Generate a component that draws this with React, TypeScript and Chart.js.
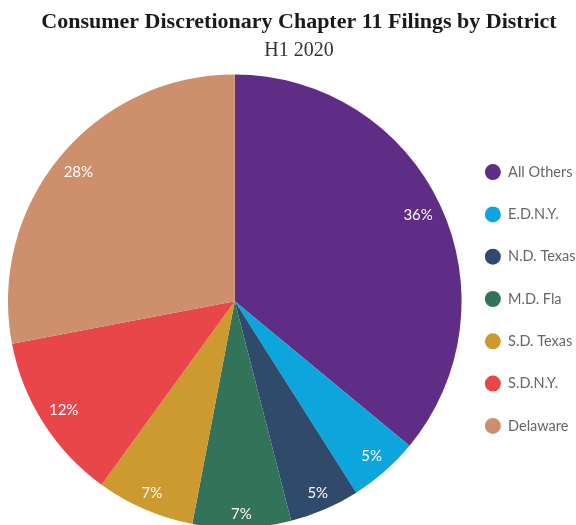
import React, { useEffect, useRef } from "react";
import { Chart, registerables } from "chart.js";

Chart.register(...registerables);

const categories = ["All Others", "E.D.N.Y.", "N.D. Texas", "M.D. Fla", "S.D. Texas", "S.D.N.Y.", "Delaware"];
const shares = [36, 5, 5, 7, 7, 12, 28];
const sliceColors = ["#5f2d85", "#0ca5dc", "#304a6b", "#33735a", "#cc9a2e", "#e9464a", "#cd8f6c"];
const titleText = "Consumer Discretionary Chapter 11 Filings by District";
const subtitleText = "H1 2020";

const labelFontSize = 15;
const labelFont = `${labelFontSize}px Lato`;
const legendShiftX = -12.5;
const legendShiftY = 35;

const sliceLabels = {
  id: "sliceLabels",
  afterDatasetsDraw(chart: any) {
    const ctx = chart.ctx;
    const meta = chart.getDatasetMeta(0);
    const data = chart.data.datasets[0].data as number[];
    const total = data.reduce((a, b) => a + b, 0);
    ctx.save();
    ctx.font = labelFont;
    ctx.fillStyle = "#ffffff";
    ctx.textAlign = "center";
    ctx.textBaseline = "middle";
    meta.data.forEach((arc: any, i: number) => {
      const p = arc.getProps(["x", "y", "startAngle", "endAngle", "outerRadius"], true);
      const mid = (p.startAngle + p.endAngle) / 2;
      const cx = Math.cos(mid);
      const cy = Math.sin(mid);
      const txt = Math.round((data[i] / total) * 100) + "%";
      const w = ctx.measureText(txt).width + 8;
      const h = labelFontSize * 1.2 + 2;
      const ext = (Math.abs(cx) * w) / 2 + (Math.abs(cy) * h) / 2;
      const r = p.outerRadius - 3 - ext;
      ctx.fillText(txt, p.x + cx * r, p.y + cy * r);
    });
    ctx.restore();
  },
};

const legendNudge = {
  id: "legendNudge",
  afterLayout(chart: any) {
    const lg = chart.legend;
    if (lg) {
      lg.left += legendShiftX;
      lg.right += legendShiftX;
      lg.top += legendShiftY;
      lg.bottom += legendShiftY;
    }
  },
};

export default function App() {
  const ref = useRef<HTMLCanvasElement | null>(null);
  useEffect(() => {
    document.body.style.margin = "0";
    const chart = new Chart(ref.current as HTMLCanvasElement, {
      type: "pie",
      data: {
        labels: categories,
        datasets: [
          {
            data: shares,
            backgroundColor: sliceColors,
            borderWidth: 0,
          },
        ],
      },
      options: {
        responsive: false,
        animation: false,
        layout: { padding: 0 },
        plugins: {
          title: {
            display: true,
            text: titleText,
            color: "#1a1a1a",
            font: { family: "'Liberation Serif'", size: 22, weight: "bold" },
            padding: { top: 9, bottom: 1 },
          },
          subtitle: {
            display: true,
            text: subtitleText,
            color: "#333333",
            font: { family: "'Liberation Serif'", size: 20, weight: "normal" },
            padding: { top: 2, bottom: 12 },
          },
          legend: {
            position: "right",
            labels: {
              usePointStyle: true,
              pointStyle: "circle",
              pointStyleWidth: 16,
              boxHeight: 11.3,
              padding: 27.8,
              color: "#666666",
              font: { family: "Lato", size: 14.5 },
            },
          },
          tooltip: { enabled: false },
        },
      },
      plugins: [sliceLabels, legendNudge],
    });
    return () => chart.destroy();
  }, []);
  return <canvas ref={ref} width={598} height={528} style={{ display: "block" }} />;
}
